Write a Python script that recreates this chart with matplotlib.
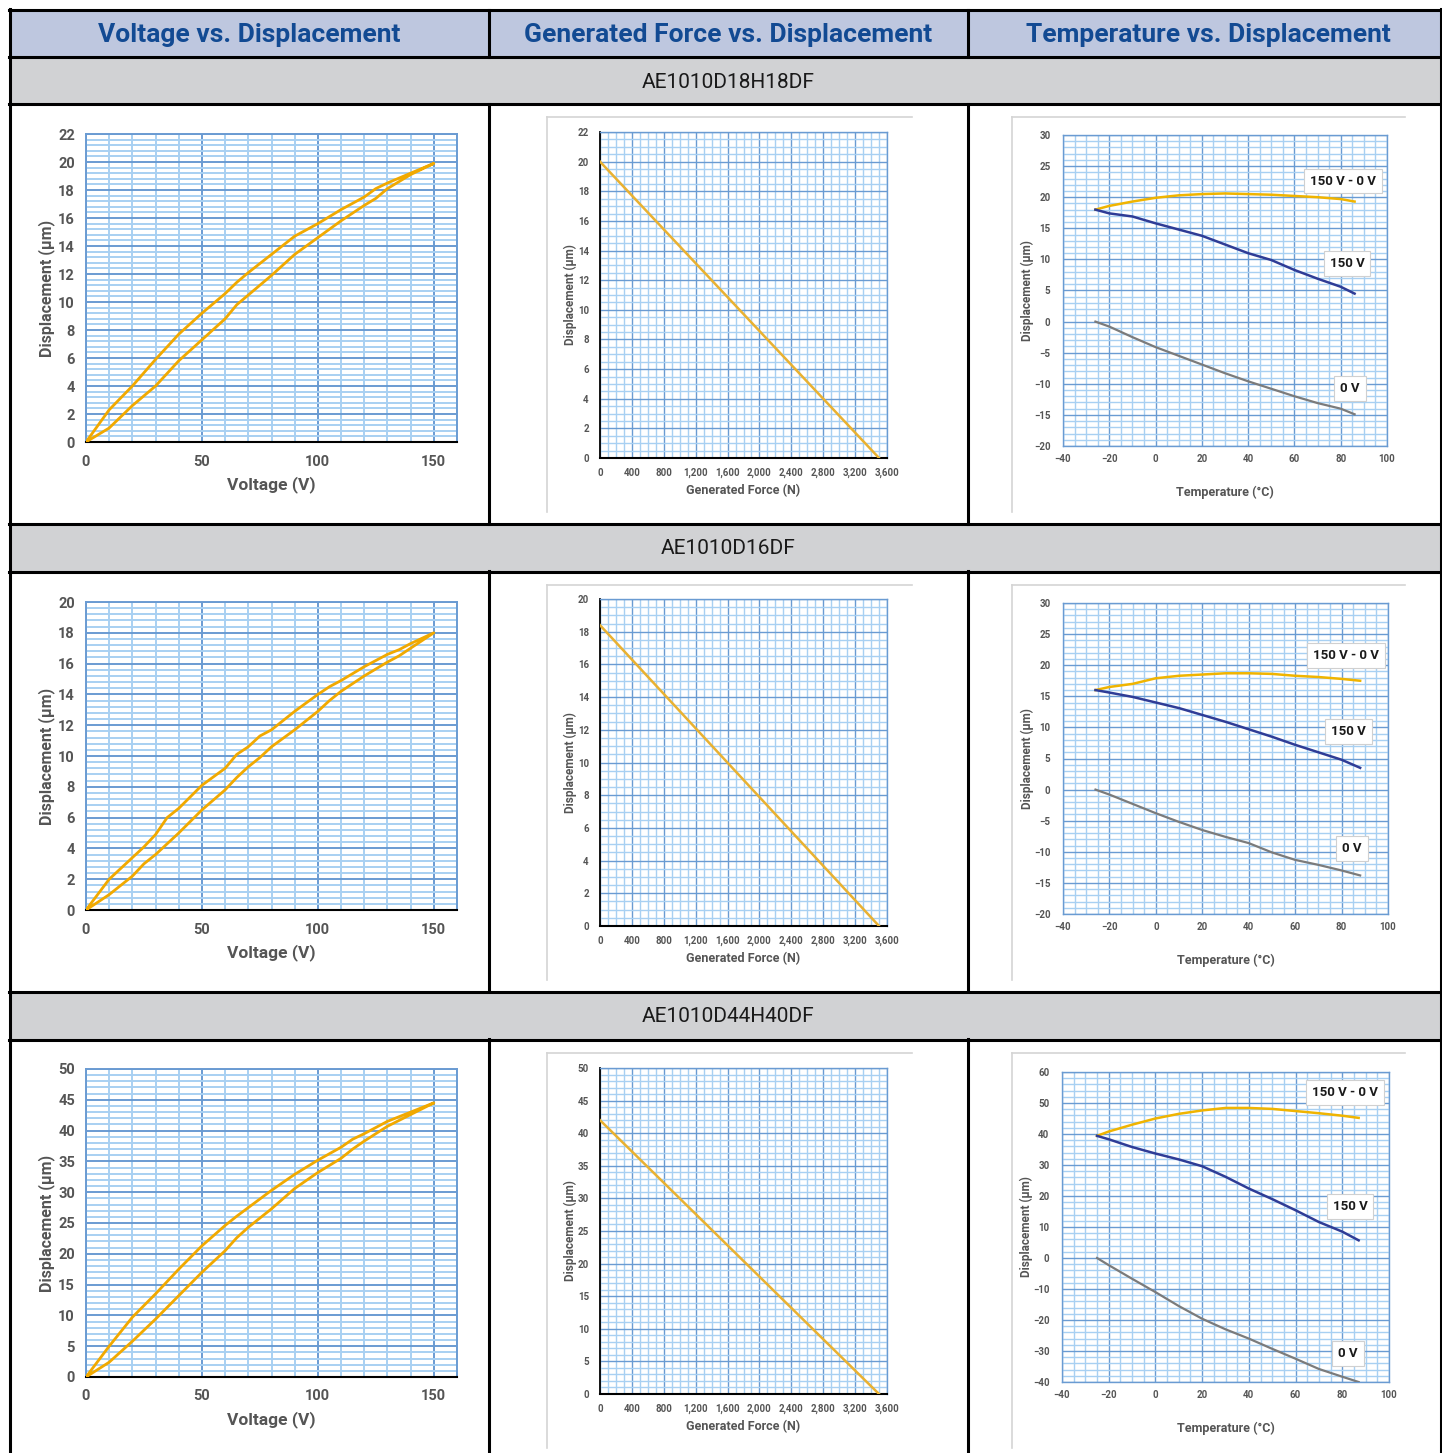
import numpy as np
from matplotlib import pyplot as plt
from matplotlib.lines import Line2D
from matplotlib.patches import Rectangle
from matplotlib.ticker import MultipleLocator, FuncFormatter

W, H = 1442, 1453
COND = ['Liberation Sans Narrow', 'Roboto', 'DejaVu Sans']
plt.rcParams['font.family'] = COND

# ---- data ----
col_titles = ['Voltage vs. Displacement', 'Generated Force vs. Displacement', 'Temperature vs. Displacement']
models = ['AE1010D18H18DF', 'AE1010D16DF', 'AE1010D44H40DF']

volt1 = [0, 10, 20, 30, 40, 50, 60, 65, 70, 80, 90, 100, 110, 120, 125, 130, 140, 150]
up1 = [0, 1.0, 2.6, 4.0, 5.8, 7.3, 8.8, 9.8, 10.5, 11.9, 13.4, 14.6, 15.8, 16.9, 17.4, 18.1, 19.1, 19.9]
down1 = [0, 2.3, 4.0, 5.9, 7.7, 9.2, 10.6, 11.4, 12.1, 13.4, 14.7, 15.6, 16.6, 17.5, 18.1, 18.5, 19.2, 19.9]

volt2 = [0, 10, 20, 25, 30, 35, 40, 50, 60, 65, 70, 75, 80, 90, 100, 105, 110, 120, 130, 135, 140, 150]
up2 = [0, 1.0, 2.2, 3.0, 3.6, 4.3, 5.0, 6.5, 7.8, 8.6, 9.3, 9.9, 10.6, 11.7, 12.9, 13.6, 14.2, 15.2, 16.1, 16.5, 17.0, 18.0]
down2 = [0, 2.0, 3.4, 4.1, 4.9, 6.0, 6.6, 8.1, 9.2, 10.1, 10.6, 11.3, 11.7, 12.9, 14.0, 14.5, 14.9, 15.8, 16.6, 16.9, 17.3, 18.0]

volt3 = [0, 10, 20, 30, 40, 50, 60, 65, 70, 80, 90, 100, 110, 115, 120, 130, 140, 150]
up3 = [0, 2.4, 5.8, 9.4, 13.2, 17.0, 20.5, 22.6, 24.3, 27.3, 30.6, 33.2, 35.5, 37.0, 38.3, 40.7, 42.6, 44.5]
down3 = [0, 5.0, 9.7, 13.5, 17.5, 21.3, 24.6, 26.1, 27.5, 30.3, 32.9, 35.2, 37.3, 38.6, 39.5, 41.5, 43.0, 44.5]

force = [0, 3500]
fdisp1 = [20, 0]
fdisp2 = [18.4, 0]
fdisp3 = [42, 0]

temp1 = [-26, -20, -10, 0, 10, 20, 30, 40, 50, 60, 70, 80, 86]
diff1 = [18.0, 18.6, 19.3, 19.9, 20.3, 20.5, 20.6, 20.5, 20.4, 20.2, 20.0, 19.7, 19.3]
v150_1 = [18.0, 17.4, 16.9, 15.8, 14.8, 13.8, 12.4, 11.0, 9.9, 8.3, 6.9, 5.6, 4.5]
v0_1 = [0.0, -0.8, -2.5, -4.1, -5.5, -6.9, -8.3, -9.6, -10.8, -12.0, -13.1, -14.0, -14.9]

temp2 = [-26, -20, -10, 0, 10, 20, 30, 40, 50, 60, 70, 80, 88]
diff2 = [16.0, 16.5, 17.0, 17.9, 18.3, 18.5, 18.7, 18.7, 18.6, 18.3, 18.1, 17.8, 17.5]
v150_2 = [16.0, 15.6, 14.9, 14.0, 13.1, 12.0, 10.9, 9.7, 8.5, 7.2, 6.0, 4.8, 3.5]
v0_2 = [0.0, -0.8, -2.3, -3.8, -5.2, -6.5, -7.6, -8.6, -10.1, -11.3, -12.1, -13.0, -13.8]

temp3 = [-25, -20, -10, 0, 10, 20, 30, 40, 50, 60, 70, 80, 87]
diff3 = [39.4, 40.8, 43.0, 45.0, 46.5, 47.6, 48.4, 48.4, 48.1, 47.4, 46.7, 45.9, 45.2]
v150_3 = [39.4, 38.3, 35.8, 33.7, 31.8, 29.6, 26.2, 22.4, 19.0, 15.4, 11.6, 8.5, 5.7]
v0_3 = [0.0, -2.3, -6.7, -11.0, -15.5, -19.6, -23.0, -26.0, -29.3, -32.5, -35.8, -38.3, -40.0]

temp_labels = ['150 V - 0 V', '150 V', '0 V']

# ---- styles ----
MINOR = '#a8d0f2'
MAJOR = '#6a9bd2'
TICKC = '#555555'
ORANGE = '#f1a900'

fig = plt.figure(figsize=(W / 100, H / 100), dpi=100)


def fx(x):
    return x / W


def fy(y):
    return 1 - y / H


def make_ax(x0, y0, x1, y1):
    return fig.add_axes([fx(x0), fy(y1), (x1 - x0) / W, (y1 - y0) / H])


def hline(y, x0, x1, color='black', lw=2.0):
    fig.add_artist(Line2D([fx(x0), fx(x1)], [fy(y), fy(y)], color=color, lw=lw, transform=fig.transFigure))


def vline(x, y0, y1, color='black', lw=2.0):
    fig.add_artist(Line2D([fx(x), fx(x)], [fy(y0), fy(y1)], color=color, lw=lw, transform=fig.transFigure))


def grid_style(ax, xmaj, xmin, ymaj, ymin, xlim, ylim, bottom='black', left=MAJOR, lw=1.1):
    ax.set_xlim(*xlim)
    ax.set_ylim(*ylim)
    ax.xaxis.set_major_locator(MultipleLocator(xmaj))
    ax.xaxis.set_minor_locator(MultipleLocator(xmin))
    ax.yaxis.set_major_locator(MultipleLocator(ymaj))
    ax.yaxis.set_minor_locator(MultipleLocator(ymin))
    ax.grid(which='minor', color=MINOR, lw=lw)
    ax.grid(which='major', color=MAJOR, lw=lw)
    ax.set_axisbelow(True)
    ax.tick_params(which='both', length=0, colors=TICKC)
    for s in ['top', 'right']:
        ax.spines[s].set_color(MAJOR)
        ax.spines[s].set_linewidth(lw)
    ax.spines['left'].set_color(left)
    ax.spines['bottom'].set_color(bottom)
    ax.spines['left'].set_linewidth(1.3 if left == 'black' else lw)
    ax.spines['bottom'].set_linewidth(1.5 if bottom == 'black' else lw)


# ---- table background ----
fig.add_artist(Rectangle((fx(10), fy(57)), fx(1432), 47 / H, transform=fig.transFigure,
                         fc='#bec7df', ec='none', zorder=0))
row_tops = [57, 524, 992]
for i, rt in enumerate(row_tops):
    fig.add_artist(Rectangle((fx(10), fy(rt + 47)), fx(1432), 47 / H, transform=fig.transFigure,
                             fc='#d1d2d4', ec='none', zorder=0))
    fig.text(fx(728), fy(rt + 25), models[i], ha='center', va='center', fontsize=15,
             family=['Roboto', 'DejaVu Sans'], color='#1a1a1a')

for i, t in enumerate(col_titles):
    cx = [249, 728, 1208][i]
    fig.text(fx(cx), fy(35), t, ha='center', va='center', fontsize=19, fontweight='bold', color='#124a93')

for y in [10, 57, 104, 524, 572, 992, 1040]:
    hline(y, 9, 1442, lw=2.2)
vline(10, 9, 1453, lw=2.2)
vline(1441, 9, 1453, lw=2.2)
for x in [489, 968]:
    vline(x, 10, 57, lw=2.2)
    for rt in row_tops:
        vline(x, rt + 47, rt + 47 + 420 if rt < 992 else 1453, lw=2.2)

# ---- voltage plots ----
volt_sets = [(volt1, up1, down1, 22, 2, 0.4), (volt2, up2, down2, 20, 2, 0.4), (volt3, up3, down3, 50, 5, 1)]
for i, (vx, up, dn, ymax, ymaj, ymin) in enumerate(volt_sets):
    off = 468 * i if i < 2 else 935
    ax = make_ax(86, 134 + off, 457, 442 + off)
    grid_style(ax, 50, 10, ymaj, ymin, (0, 160), (0, ymax), lw=1.4)
    ax.plot(vx + vx[::-1], up + dn[::-1], color=ORANGE, lw=2.0, zorder=3)
    ax.set_xticks([0, 50, 100, 150])
    for lab in ax.get_xticklabels() + ax.get_yticklabels():
        lab.set_fontweight('bold')
        lab.set_fontsize(10.5)
    ax.tick_params(axis='x', pad=9)
    ax.tick_params(axis='y', pad=8)
    ax.text(0.5, -0.137, 'Voltage (V)', transform=ax.transAxes, ha='center', va='center',
            fontsize=12.5, fontweight='bold', color=TICKC)
    ax.text(-0.107, 0.5, 'Displacement (µm)', transform=ax.transAxes, ha='center', va='center',
            rotation=90, fontsize=11.5, fontweight='bold', color=TICKC)

# ---- framed pictures (force + temperature) ----
for i in range(3):
    off = 468 * i if i < 2 else 936
    for x0, x1 in [(547, 912), (1012, 1405)]:
        hline(117 + off, x0, x1, color='#d4d4d4', lw=1.2)
        vline(x0, 117 + off, 512 + off, color='#d4d4d4', lw=1.2)

# ---- force plots ----
force_sets = [(fdisp1, 22, 2, 0.5, 132, 458), (fdisp2, 20, 2, 0.5, 599, 926), (fdisp3, 50, 5, 1, 1068, 1394)]
for fd, ymax, ymaj, ymin, top, bot in force_sets:
    ax = make_ax(600, top, 887, bot)
    grid_style(ax, 400, 100, ymaj, ymin, (0, 3600), (0, ymax), left='black', lw=1.0)
    ax.plot(force, fd, color='#e9b131', lw=1.8, zorder=3)
    ax.xaxis.set_major_formatter(FuncFormatter(lambda v, p: f'{int(v):,}'))
    for lab in ax.get_xticklabels() + ax.get_yticklabels():
        lab.set_fontweight('bold')
        lab.set_fontsize(7)
    ax.tick_params(axis='x', pad=7)
    ax.tick_params(axis='y', pad=8)
    ax.text(0.5, -33 / (bot - top), 'Generated Force (N)',
            transform=ax.transAxes, ha='center', va='center', fontsize=9, fontweight='bold', color=TICKC)
    ax.text(-30 / 287, 0.5, 'Displacement (µm)', transform=ax.transAxes, ha='center', va='center',
            rotation=90, fontsize=8.5, fontweight='bold', color=TICKC)

# ---- temperature plots ----
temp_sets = [
    (temp1, diff1, v150_1, v0_1, (-20, 30), 5, 1, 1063, 135, 1387, 446, [(81, 22.6), (82.7, 9.4), (84, -10.8)]),
    (temp2, diff2, v150_2, v0_2, (-20, 30), 5, 1, 1063, 603, 1388, 914, [(82, 21.6), (83, 9.4), (84.5, -9.4)]),
    (temp3, diff3, v150_3, v0_3, (-40, 60), 10, 2, 1062, 1072, 1389, 1382, [(81.2, 53.5), (83.3, 16.6), (82.5, -30.8)]),
]
for tx, d, hv, zv, ylim, ymaj, ymin, x0, y0, x1, y1, lpos in temp_sets:
    ax = make_ax(x0, y0, x1, y1)
    grid_style(ax, 20, 5, ymaj, ymin, (-40, 100), ylim, bottom=MAJOR, lw=1.0)
    ax.plot(tx, d, color='#f0b400', lw=1.8, zorder=3)
    ax.plot(tx, hv, color='#2f3c96', lw=1.8, zorder=3)
    ax.plot(tx, zv, color='#7b7b7b', lw=1.6, zorder=3)
    for lab in ax.get_xticklabels() + ax.get_yticklabels():
        lab.set_fontweight('bold')
        lab.set_fontsize(7)
    ax.tick_params(axis='x', pad=6)
    ax.tick_params(axis='y', pad=9)
    for txt, (px, py) in zip(temp_labels, lpos):
        ax.text(px, py, txt, ha='center', va='center', fontsize=9.5, fontweight='bold', color='#1a1a1a',
                zorder=4, bbox=dict(boxstyle='square,pad=0.45', fc='white', ec='#d0d0d0', lw=0.8))
    ax.text(0.5, -46 / (y1 - y0), 'Temperature (°C)', transform=ax.transAxes, ha='center', va='center',
            fontsize=9, fontweight='bold', color=TICKC)
    ax.text(-36 / (x1 - x0), 0.5, 'Displacement (µm)', transform=ax.transAxes, ha='center', va='center',
            rotation=90, fontsize=8.5, fontweight='bold', color=TICKC)

fig.savefig('out.png', dpi=100, facecolor='white')
